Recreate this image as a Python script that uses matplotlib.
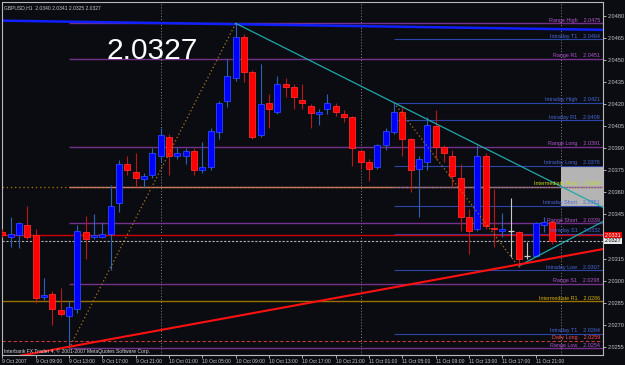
import matplotlib
matplotlib.use("Agg")
import matplotlib.pyplot as plt
import matplotlib.transforms as mtransforms
import numpy as np

# ---------------- data ----------------
header_text = "GBPUSD,H1  2.0340 2.0341 2.0325 2.0327"
big_price = "2.0327"
copyright_text = "Interbank FX Trader 4, \u00a9 2001-2007 MetaQuotes Software Corp."

opens = [2.0333, 2.0330, 2.0331, 2.0338, 2.0331, 2.0289, 2.0291, 2.0280, 2.0276, 2.0281,
         2.0333, 2.0330, 2.0330, 2.0332, 2.0353, 2.0379, 2.0374, 2.0369, 2.0372, 2.0385,
         2.0398, 2.0385, 2.0385, 2.0388, 2.0375, 2.0377, 2.0401, 2.0422, 2.0438, 2.0466,
         2.0442, 2.0399, 2.0421, 2.0415, 2.0434, 2.0432, 2.0423, 2.0419, 2.0413, 2.0417,
         2.0419, 2.0413, 2.0411, 2.0388, 2.0381, 2.0377, 2.0392, 2.0401, 2.0415, 2.0396,
         2.0376, 2.0381, 2.0405, 2.0391, 2.0385, 2.0370, 2.0343, 2.0335, 2.0385, 2.0336,
         2.0334, 2.0334, 2.0333, 2.0317, 2.0317, 2.0338, 2.0340]
highs = [2.0335, 2.0343, 2.0340, 2.0351, 2.0335, 2.0302, 2.0293, 2.0295, 2.0286, 2.0338,
         2.0344, 2.0345, 2.0340, 2.0365, 2.0382, 2.0385, 2.0387, 2.0373, 2.0390, 2.0404,
         2.0400, 2.0391, 2.0390, 2.0390, 2.0394, 2.0404, 2.0422, 2.0451, 2.0475, 2.0468,
         2.0443, 2.0447, 2.0427, 2.0439, 2.0438, 2.0434, 2.0434, 2.0420, 2.0417, 2.0427,
         2.0421, 2.0416, 2.0412, 2.0389, 2.0383, 2.0393, 2.0404, 2.0421, 2.0419, 2.0397,
         2.0385, 2.0411, 2.0416, 2.0392, 2.0389, 2.0379, 2.0349, 2.0392, 2.0387, 2.0362,
         2.0346, 2.0356, 2.0334, 2.0326, 2.0340, 2.0343, 2.0341]
lows = [2.0330, 2.0323, 2.0322, 2.0328, 2.0285, 2.0287, 2.0270, 2.0276, 2.0254, 2.0278,
        2.0315, 2.0328, 2.0329, 2.0307, 2.0347, 2.0372, 2.0364, 2.0364, 2.0370, 2.0381,
        2.0372, 2.0383, 2.0379, 2.0372, 2.0373, 2.0375, 2.0396, 2.0418, 2.0436, 2.0435,
        2.0396, 2.0398, 2.0404, 2.0413, 2.0425, 2.0417, 2.0417, 2.0404, 2.0406, 2.0413,
        2.0412, 2.0408, 2.0378, 2.0376, 2.0368, 2.0376, 2.0389, 2.0400, 2.0385, 2.0360,
        2.0343, 2.0375, 2.0383, 2.0381, 2.0364, 2.0334, 2.0318, 2.0334, 2.0335, 2.0323,
        2.0330, 2.0316, 2.0309, 2.0315, 2.0316, 2.0333, 2.0325]
closes = [2.0331, 2.0332, 2.0339, 2.0330, 2.0288, 2.0290, 2.0281, 2.0277, 2.0282, 2.0334,
          2.0328, 2.0331, 2.0332, 2.0351, 2.0379, 2.0375, 2.0370, 2.0371, 2.0387, 2.0399,
          2.0385, 2.0387, 2.0388, 2.0375, 2.0377, 2.0402, 2.0421, 2.0439, 2.0466, 2.0442,
          2.0398, 2.0420, 2.0417, 2.0434, 2.0432, 2.0425, 2.0421, 2.0414, 2.0415, 2.0421,
          2.0415, 2.0411, 2.0390, 2.0381, 2.0376, 2.0392, 2.0402, 2.0415, 2.0396, 2.0375,
          2.0383, 2.0406, 2.0391, 2.0387, 2.0371, 2.0343, 2.0334, 2.0385, 2.0337, 2.0335,
          2.0335, 2.0334, 2.0315, 2.0317, 2.0339, 2.0340, 2.0327]

x_tick_bars = [0, 4, 8, 12, 16, 20, 24, 28, 32, 36, 40, 44, 48, 52, 56, 60, 64]
x_tick_labels = ["9 Oct 2007", "9 Oct 09:00", "9 Oct 13:00", "9 Oct 17:00", "9 Oct 21:00",
                 "10 Oct 01:00", "10 Oct 05:00", "10 Oct 09:00", "10 Oct 13:00",
                 "10 Oct 17:00", "10 Oct 21:00", "11 Oct 01:00", "11 Oct 05:00",
                 "11 Oct 09:00", "11 Oct 13:00", "11 Oct 17:00", "11 Oct 21:00"]
day_separator_bars = [19, 43, 67]

y_ticks = [2.0480, 2.0465, 2.0450, 2.0435, 2.0420, 2.0405, 2.0390, 2.0375, 2.0360,
           2.0345, 2.0330, 2.0315, 2.0300, 2.0285, 2.0270, 2.0255]
y_tick_labels = ["2.0480", "2.0465", "2.0450", "2.0435", "2.0420", "2.0405", "2.0390",
                 "2.0375", "2.0360", "2.0345", "", "2.0315", "2.0300", "2.0285",
                 "2.0270", "2.0255"]

ask_price = 2.0331
bid_price = 2.0327

level_names = ["Range High", "Intraday T1", "Range R1", "Intraday High", "Intraday R1",
               "Range Long", "Intraday Long", "Intermediate Pivot", "Intraday Short",
               "Range Short", "Intraday S1", "Intraday Low", "Range S1",
               "Intermediate R1", "Intraday T1", "Daily Long", "Range Low"]
level_prices = [2.0475, 2.0464, 2.0451, 2.0421, 2.0409, 2.0391, 2.0378, 2.0364, 2.0351,
                2.0339, 2.0332, 2.0307, 2.0298, 2.0286, 2.0264, 2.0259, 2.0254]
level_kinds = ["range", "intraday", "range", "intraday", "intraday", "range", "intraday",
               "inter", "intraday", "range", "intraday", "intraday", "range", "inter",
               "intraday", "daily", "range"]
range_pivot_price = 2.0364
intraday_pivot_price = 2.0364

top_line_bars = [-1, 73]
top_line_prices = [2.04769, 2.04705]

trend_down_bars = [28, 47]
trend_down_prices = [2.0475, 2.0421]
trend_up_bars = [62, 64]
trend_up_prices = [2.0310, 2.0316]
trend_red_bars = [8, 62]
trend_red_prices = [2.0255, 2.0311]
zigzag_bars = [(8, 28), (47, 62)]
zigzag_prices = [(2.0254, 2.0475), (2.0421, 2.0309)]

zone_bar_start = 67
zone_prices = [2.0351, 2.0378]

# ---------------- styling ----------------
BG = "#0a0c12"
SMALL = "Liberation Sans"
W, H = 625, 365
fig = plt.figure(figsize=(W / 100, H / 100), dpi=100, facecolor=BG)
left_px, right_px, top_px, bottom_px = 2, 603, 2, 355
ax = fig.add_axes([left_px / W, (H - bottom_px) / H, (right_px - left_px) / W,
                   (bottom_px - top_px) / H])
ax.set_facecolor(BG)
x_min, x_max = -0.05, 72.07
y_min, y_max = 2.02494, 2.04895
ax.set_xlim(x_min, x_max)
ax.set_ylim(y_min, y_max)

for s in ax.spines.values():
    s.set_color("#b8b8b8")
    s.set_linewidth(0.8)

blend = mtransforms.blended_transform_factory(ax.transAxes, ax.transData)

# day separators
for b in day_separator_bars:
    ax.axvline(b, color="#8a8a8a", lw=0.7, ls=(0, (1, 2)), zorder=1)

# zone rectangle
ax.fill_between([zone_bar_start, x_max], zone_prices[0], zone_prices[1],
                color="#b4b4b4", lw=0, zorder=1.5)

# level lines and labels
kind_style = {
    "range": dict(line="#74308a", text="#b455d2", start=8, ls="-", lw=1.0),
    "intraday": dict(line="#2c44a8", text="#4a68dc", start=47, ls="-", lw=0.8),
    "inter": dict(line="#9a7000", text="#d8b000", start=x_min, ls="-", lw=1.0),
    "daily": dict(line="#c03a3a", text="#ff4a4a", start=x_min, ls=(0, (3, 2)), lw=0.8),
}
for name, price, kind in zip(level_names, level_prices, level_kinds):
    st = kind_style[kind]
    ls = st["ls"]
    if name == "Intermediate Pivot":
        ls = (0, (1, 2))
    ax.hlines(price, st["start"], x_max, color=st["line"], lw=st["lw"], ls=ls, zorder=2)
    txtcol = st["text"]
    if name == "Intermediate Pivot":
        txtcol = "#c8d820"
    ax.text(0.995, price + 0.00003, f"{name}    {price:.4f}", transform=blend,
            ha="right", va="bottom", fontsize=3.9, family=SMALL, color=txtcol, zorder=6)
ax.hlines(range_pivot_price, 8, x_max, color="#c87860", lw=1.0, zorder=2)
ax.hlines(intraday_pivot_price, 47, x_max, color="#3a5ad8", lw=0.8, ls=(0, (1, 1.5)),
          zorder=2.1)

# top blue indicator line
ax.plot(top_line_bars, top_line_prices, color="#1020ff", lw=1.8, zorder=2)

# ask / bid lines
ax.axhline(ask_price, color="#d00000", lw=1.0, zorder=2)
ax.axhline(bid_price, color="#b0b0b0", lw=0.8, ls=(0, (2, 1.5)), zorder=2)

# candles
xs = np.arange(len(opens))
o = np.array(opens); h = np.array(highs); l = np.array(lows); c = np.array(closes)
up = c > o
dn = c < o
fl = c == o
ax.vlines(xs[up], l[up], h[up], color="#2a62b8", lw=0.8, zorder=3)
ax.vlines(xs[dn], l[dn], h[dn], color="#b81818", lw=0.8, zorder=3)
ax.vlines(xs[fl], l[fl], h[fl], color="#c8c8c8", lw=0.8, zorder=3)
bw = 0.72
ax.bar(xs[up], (c - o)[up], bottom=o[up], width=bw, color="#0000ff",
       edgecolor="#2848ff", lw=0.6, zorder=4)
ax.bar(xs[dn], (o - c)[dn], bottom=c[dn], width=bw, color="#ff0000",
       edgecolor="#ff2a2a", lw=0.6, zorder=4)
ax.hlines(o[fl], xs[fl] - bw / 2, xs[fl] + bw / 2, color="#d0d0d0", lw=0.9, zorder=4)

# zigzag
for (a, b), (pa, pb) in zip(zigzag_bars, zigzag_prices):
    ax.plot([a, b], [pa, pb], color="#b07818", lw=0.9, ls=(0, (1, 2)), zorder=5)


def ray(bars, prices, x0, x1):
    k = (prices[1] - prices[0]) / (bars[1] - bars[0])
    return [x0, x1], [prices[0] + k * (x0 - bars[0]), prices[0] + k * (x1 - bars[0])]


rx, ry = ray(trend_down_bars, trend_down_prices, trend_down_bars[0], x_max)
ax.plot(rx, ry, color="#20a8a8", lw=0.9, zorder=5)
rx, ry = ray(trend_up_bars, trend_up_prices, trend_up_bars[0], x_max)
ax.plot(rx, ry, color="#20a8a8", lw=0.9, zorder=5)
rx, ry = ray(trend_red_bars, trend_red_prices, -6, x_max)
ax.plot(rx, ry, color="#ff1010", lw=1.5, zorder=5)

# axes ticks
ax.yaxis.tick_right()
ax.set_yticks(y_ticks)
ax.set_yticklabels(y_tick_labels)
ax.tick_params(axis="y", length=2, width=0.6, pad=1.2, labelsize=4.0,
               colors="#c8c8c8")
ax.set_xticks(x_tick_bars)
ax.set_xticklabels(x_tick_labels)
ax.tick_params(axis="x", length=2, width=0.6, pad=1.0, labelsize=3.6,
               colors="#c8c8c8")
for t in ax.get_yticklabels() + ax.get_xticklabels():
    t.set_family(SMALL)
for t in ax.get_xticklabels():
    t.set_ha("left")

# bid / ask labels on axis
ax.text(1.003, ask_price, f"{ask_price:.4f}", transform=blend, ha="left", va="center",
        fontsize=3.9, family=SMALL, color="white", clip_on=False, zorder=7,
        bbox=dict(facecolor="#e00000", edgecolor="none", pad=0.6))
ax.text(1.003, bid_price, f"{bid_price:.4f}", transform=blend, ha="left", va="center",
        fontsize=3.9, family=SMALL, color="black", clip_on=False, zorder=7,
        bbox=dict(facecolor="#e8e8e8", edgecolor="none", pad=0.6))

# texts
ax.text(0.003, 0.992, header_text, transform=ax.transAxes, ha="left", va="top",
        fontsize=3.6, family=SMALL, color="#c8c8c8", zorder=7)
ax.text(0.003, 0.004, copyright_text, transform=ax.transAxes, ha="left", va="bottom",
        fontsize=3.6, family=SMALL, color="#d8d8d8", zorder=7)
fig.text(107 / W, (H - 59) / H, big_price, ha="left", va="baseline",
         fontsize=21.5, color="white", family="Liberation Sans")

fig.savefig("out.png", dpi=100, facecolor=BG)
